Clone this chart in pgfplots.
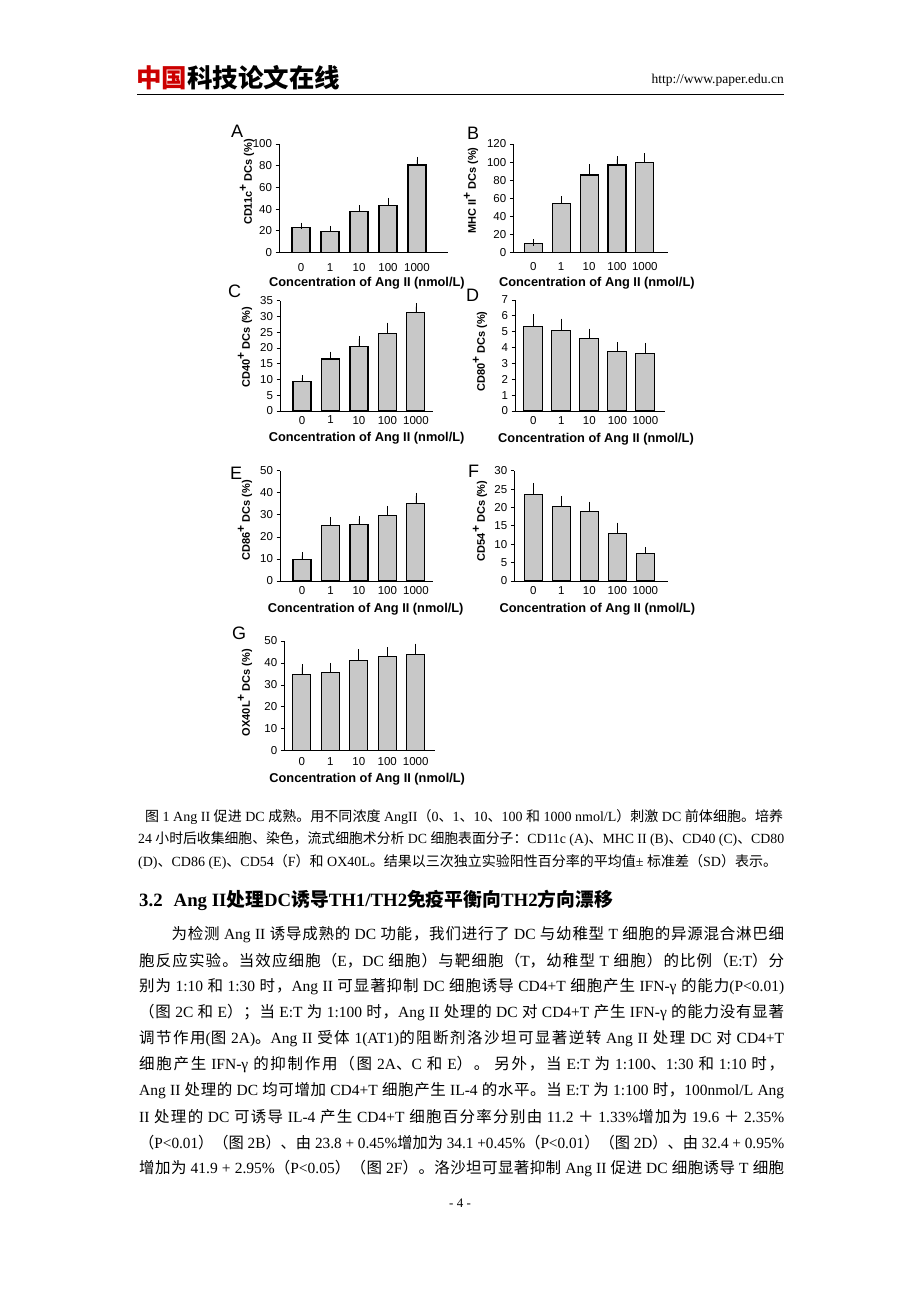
\documentclass[border=0pt]{standalone}
\usepackage{fontspec}
\usepackage{graphicx}
\usepackage{pgfplots}
\pgfplotsset{compat=1.18}
\setmainfont{Liberation Serif}
\setsansfont{Liberation Sans}
\newfontfamily\cjk{Noto Sans CJK SC}

% switch to the CJK font for CJK characters
\XeTeXinterchartokenstate=1
\newXeTeXintercharclass\cjkclass
\newcount\cc
\def\setcjkrange#1#2{\cc=#1 \loop\XeTeXcharclass\cc=\cjkclass\ifnum\cc<#2 \advance\cc by 1 \repeat}
\setcjkrange{"3000}{"303F}
\setcjkrange{"4E00}{"9FFF}
\setcjkrange{"FF00}{"FFEF}
\XeTeXinterchartoks 0 \cjkclass={\cjk}
\XeTeXinterchartoks 4095 \cjkclass={\cjk}
\XeTeXinterchartoks \cjkclass 0={\rmfamily}
\XeTeXinterchartoks \cjkclass 4095={\rmfamily}
\XeTeXinterchartoks \cjkclass \cjkclass={\hskip0pt plus 0.2em\relax}

\newsavebox\lbox
\newcommand\jl[2]{\sbox\lbox{#2}\ifdim\wd\lbox>#1pt\resizebox{#1pt}{\height}{\usebox\lbox}\else\hbox to #1pt{#2}\fi}

\definecolor{barfill}{RGB}{200,200,200}

\pgfplotsset{
  panel/.style={
    scale only axis, ybar, ymin=0, enlargelimits=false,
    axis x line*=bottom, axis y line*=left,
    axis line style={-, line width=0.7pt},
    every tick/.style={black, line width=0.7pt},
    tick align=outside, major tick length=3.5pt,
    xtick=data, xtick style={draw=none},
    tick label style={font=\sffamily\fontsize{11.5}{11.5}\selectfont},
    /pgf/number format/assume math mode=true,
    xticklabels={0,1,10,100,1000},
    ylabel style={font=\sffamily\bfseries\fontsize{11}{12}\selectfont},
    xlabel style={font=\sffamily\bfseries\fontsize{12.8}{13}\selectfont},
    xlabel={Concentration of Ang II (nmol/L)},
    clip=false,
  },
  bars/.style={fill=barfill, draw=black, line width=1.1pt,
    error bars/.cd, y dir=plus, y explicit,
    error bar style={line width=0.8pt, black},
    error mark options={mark size=3.2pt, line width=0.8pt, black}},
}
\newcommand\plussup{\raisebox{5pt}{\fontsize{12}{12}\selectfont +}}

\begin{document}
\begin{tikzpicture}[x=1pt, y=1pt]
\fill[white] (0,0) rectangle (920,1302);

% header
\node[anchor=west, inner sep=0pt, font=\bfseries\fontsize{25.5}{25.5}\selectfont] at (136,1302-78)
  {\textcolor{red!80!black}{中国}科技论文在线};
\node[anchor=east, inner sep=0pt, font=\fontsize{13.5}{13.5}\selectfont] at (784,1302-80) {http://www.paper.edu.cn};
\draw[line width=0.8pt] (137,1302-94) -- (784,1302-94);

% A
\begin{axis}[panel, at={(279pt,1049.5pt)}, anchor=south west, width=169pt, height=108.5pt,
  xmin=-0.76, xmax=5.07, ymax=100, ytick={0,20,...,100},
  xticklabel style={yshift=-4.3pt},
  ylabel={CD11c\plussup\ DCs (\%)}, ylabel style={at={(axis description cs:-0.19,0.65)}, anchor=center},
  xlabel style={at={(axis description cs:0.52,-0.281)}, anchor=center}]
\addplot[bar width=18pt, bars] coordinates {(0,22.8) +- (0,1.8) (1,19.1) +- (0,2.4) (2,37.5) +- (0,3.1) (3,43.4) +- (0,4.0) (4,80.6) +- (0,4.6)};
\end{axis}
\node[anchor=base west, inner sep=0pt, font=\sffamily\fontsize{18}{18}\selectfont] at (231,1302-138) {A};

% B
\begin{axis}[panel, at={(513.3pt,1049.3pt)}, anchor=south west, width=154.7pt, height=108.7pt,
  xmin=-0.717, xmax=4.83, ymax=120, ytick={0,20,...,120},
  xticklabel style={yshift=-3.1pt},
  ylabel={MHC II\plussup\ DCs (\%)}, ylabel style={at={(axis description cs:-0.273,0.57)}, anchor=center},
  xlabel style={at={(axis description cs:0.54,-0.279)}, anchor=center}]
\addplot[bar width=18pt, bars] coordinates {(0,10.3) +- (0,1.1) (1,54.5) +- (0,4.4) (2,85.8) +- (0,8.4) (3,96.8) +- (0,6.2) (4,99.4) +- (0,6.6)};
\end{axis}
\node[anchor=base west, inner sep=0pt, font=\sffamily\fontsize{18}{18}\selectfont] at (467,1302-140) {B};

% C
\begin{axis}[panel, at={(280pt,891pt)}, anchor=south west, width=153.3pt, height=110.3pt,
  xmin=-0.772, xmax=4.61, ymax=35, ytick={0,5,...,35},
  xticklabel style={yshift=2pt},
  ylabel={CD40\plussup\ DCs (\%)}, ylabel style={at={(axis description cs:-0.228,0.58)}, anchor=center},
  xlabel style={at={(axis description cs:0.565,-0.245)}, anchor=center}]
\addplot[bar width=18pt, bars] coordinates {(0,9.3) +- (0,1.1) (1,16.5) +- (0,1.3) (2,20.6) +- (0,2.2) (3,24.6) +- (0,2.4) (4,31.3) +- (0,1.8)};
\end{axis}
\node[anchor=base west, inner sep=0pt, font=\sffamily\fontsize{18}{18}\selectfont] at (228,1302-298) {C};

% D
\begin{axis}[panel, at={(515pt,891pt)}, anchor=south west, width=150pt, height=111pt,
  xmin=-0.65, xmax=4.70, ymax=7, ytick={0,1,...,7},
  xticklabel style={yshift=1.2pt},
  ylabel={CD80\plussup\ DCs (\%)}, ylabel style={at={(axis description cs:-0.233,0.535)}, anchor=center},
  xlabel style={at={(axis description cs:0.54,-0.252)}, anchor=center}]
\addplot[bar width=19pt, bars] coordinates {(0,5.3) +- (0,0.6) (1,5.1) +- (0,0.53) (2,4.56) +- (0,0.44) (3,3.74) +- (0,0.38) (4,3.64) +- (0,0.46)};
\end{axis}
\node[anchor=base west, inner sep=0pt, font=\sffamily\fontsize{18}{18}\selectfont] at (466,1302-302) {D};

% E
\begin{axis}[panel, at={(280pt,721pt)}, anchor=south west, width=153pt, height=110.3pt,
  xmin=-0.772, xmax=4.6, ymax=50, ytick={0,10,...,50},
  xticklabel style={yshift=1.2pt},
  ylabel={CD86\plussup\ DCs (\%)}, ylabel style={at={(axis description cs:-0.228,0.55)}, anchor=center},
  xlabel style={at={(axis description cs:0.56,-0.254)}, anchor=center}]
\addplot[bar width=18pt, bars] coordinates {(0,9.8) +- (0,1.7) (1,25.1) +- (0,2.5) (2,25.8) +- (0,2.3) (3,29.6) +- (0,3.0) (4,35.2) +- (0,3.3)};
\end{axis}
\node[anchor=base west, inner sep=0pt, font=\sffamily\fontsize{18}{18}\selectfont] at (230,1302-480) {E};

% F
\begin{axis}[panel, at={(514.3pt,721pt)}, anchor=south west, width=153.7pt, height=110.3pt,
  xmin=-0.68, xmax=4.81, ymax=30, ytick={0,5,...,30},
  xticklabel style={yshift=1.2pt},
  ylabel={CD54\plussup\ DCs (\%)}, ylabel style={at={(axis description cs:-0.223,0.545)}, anchor=center},
  xlabel style={at={(axis description cs:0.54,-0.254)}, anchor=center}]
\addplot[bar width=18pt, bars] coordinates {(0,23.6) +- (0,2.2) (1,20.2) +- (0,2.1) (2,18.9) +- (0,1.8) (3,13.0) +- (0,2.0) (4,7.6) +- (0,0.7)};
\end{axis}
\node[anchor=base west, inner sep=0pt, font=\sffamily\fontsize{18}{18}\selectfont] at (468,1302-478) {F};

% G
\begin{axis}[panel, at={(284.3pt,551.3pt)}, anchor=south west, width=150.7pt, height=109.7pt,
  xmin=-0.62, xmax=4.68, ymax=50, ytick={0,10,...,50},
  xticklabel style={yshift=0pt},
  ylabel={OX40L\plussup\ DCs (\%)}, ylabel style={at={(axis description cs:-0.26,0.53)}, anchor=center},
  xlabel style={at={(axis description cs:0.55,-0.258)}, anchor=center}]
\addplot[bar width=18pt, bars] coordinates {(0,34.8) +- (0,3.2) (1,35.6) +- (0,3.0) (2,41.0) +- (0,3.8) (3,43.1) +- (0,2.5) (4,43.8) +- (0,3.6)};
\end{axis}
\node[anchor=base west, inner sep=0pt, font=\sffamily\fontsize{18}{18}\selectfont] at (232,1302-640) {G};

% caption
\begin{scope}[every node/.style={anchor=west, inner sep=0pt, font=\fontsize{14}{14}\selectfont}]
\node at (145,1302-817) {\jl{638}{图 1 Ang II 促进 DC 成熟。用不同浓度 AngII（0、1、10、100 和 1000 nmol/L）刺激 DC 前体细胞。培养}};
\node at (138,1302-839) {\jl{646}{24 小时后收集细胞、染色，流式细胞术分析 DC 细胞表面分子：CD11c (A)、MHC II (B)、CD40 (C)、CD80}};
\node at (138,1302-862) {(D)、CD86 (E)、CD54（F）和 OX40L。结果以三次独立实验阳性百分率的平均值± 标准差（SD）表示。};
\end{scope}

% heading
\node[anchor=west, inner sep=0pt, font=\bfseries\fontsize{18.8}{18.8}\selectfont] at (139,1302-900)
  {3.2\hspace{11pt}Ang II处理DC诱导TH1/TH2免疫平衡向TH2方向漂移};

% body
\begin{scope}[every node/.style={anchor=west, inner sep=0pt, font=\fontsize{15.5}{15.5}\selectfont}]
\node at (171.5,1302-935) {\jl{612.5}{为检测 Ang II 诱导成熟的 DC 功能，我们进行了 DC 与幼稚型 T 细胞的异源混合淋巴细}};
\node at (139,1302-960.9) {\jl{645}{胞反应实验。当效应细胞（E，DC 细胞）与靶细胞（T，幼稚型 T 细胞）的比例（E:T）分}};
\node at (139,1302-986.8) {\jl{645}{别为 1:10 和 1:30 时，Ang II 可显著抑制 DC 细胞诱导 CD4+T 细胞产生 IFN-γ 的能力(P<0.01)}};
\node at (139,1302-1012.7) {\jl{645}{（图 2C 和 E）；当 E:T 为 1:100 时，Ang II 处理的 DC 对 CD4+T 产生 IFN-γ 的能力没有显著}};
\node at (139,1302-1038.6) {\jl{645}{调节作用(图 2A)。Ang II 受体 1(AT1)的阻断剂洛沙坦可显著逆转 Ang II 处理 DC 对 CD4+T}};
\node at (139,1302-1064.5) {\jl{645}{细胞产生 IFN-γ 的抑制作用（图 2A、C 和 E）。 另外，当 E:T 为 1:100、1:30 和 1:10 时，}};
\node at (139,1302-1090.4) {\jl{645}{Ang II 处理的 DC 均可增加 CD4+T 细胞产生 IL-4 的水平。当 E:T 为 1:100 时，100nmol/L Ang}};
\node at (139,1302-1116.3) {\jl{645}{II 处理的 DC 可诱导 IL-4 产生 CD4+T 细胞百分率分别由 11.2 ＋ 1.33\%增加为 19.6 ＋ 2.35\%}};
\node at (139,1302-1142.2) {\jl{645}{（P<0.01）（图 2B）、由 23.8 + 0.45\%增加为 34.1 +0.45\%（P<0.01）（图 2D）、由 32.4 + 0.95\%}};
\node at (139,1302-1168.1) {\jl{645}{增加为 41.9 + 2.95\%（P<0.05）（图 2F）。洛沙坦可显著抑制 Ang II 促进 DC 细胞诱导 T 细胞}};
\end{scope}

\node[font=\fontsize{13}{13}\selectfont, inner sep=0pt] at (460,1302-1203) {- 4 -};
\end{tikzpicture}
\end{document}
